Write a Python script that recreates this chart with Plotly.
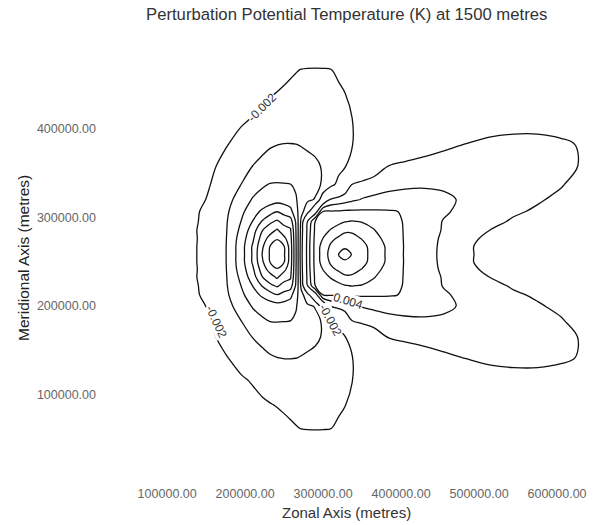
import numpy as np
import plotly.graph_objects as go

# Grid columns (zonal, km) and rows (meridional, km), bottom to top
x_km = [100, 125, 150, 175, 195, 210, 222, 232, 241, 250, 258, 265, 272, 280, 290, 300, 310,
        320, 328, 337, 350, 365, 385, 405, 430, 455, 485, 515, 545, 575, 605, 635, 660]
y_km = [41.5, 62.6, 89.0, 115.4, 141.8, 165.0, 184.0, 199.9, 212.6, 223.1, 232.6, 241.1, 249.5,
        258.0, 267.0, 276.0, 285.0, 295.1, 306.3, 319.8, 336.6, 356.9, 381.6, 409.7, 437.8, 465.8, 488.3]

# Perturbation potential temperature, in milli-kelvin (rows bottom -> top)
z_mK = [
    [-0.2, -0.3, -0.4, -0.5, -0.65, -0.75, -0.85, -0.95, -1.0, -1.1, -1.15, -1.2, -1.25, -1.3, -1.3, -1.3, -1.25, -1.2, -1.15, -1.05, -0.9, -0.7, -0.45, -0.25, -0.05, 0.1, 0.2, 0.25, 0.3, 0.3, 0.25, 0.2, 0.15],
    [-0.3, -0.45, -0.6, -0.8, -1.0, -1.2, -1.35, -1.5, -1.6, -1.75, -1.85, -1.95, -2.02, -2.05, -2.06, -2.05, -2.01, -1.9, -1.8, -1.65, -1.4, -1.1, -0.7, -0.4, -0.1, 0.15, 0.35, 0.45, 0.5, 0.5, 0.45, 0.35, 0.25],
    [-0.4, -0.6, -0.8, -1.1, -1.4, -1.6, -1.8, -1.95, -2.05, -2.15, -2.25, -2.3, -2.35, -2.4, -2.4, -2.35, -2.25, -2.1, -2.02, -1.8, -1.5, -1.15, -0.7, -0.3, 0.15, 0.5, 0.8, 0.95, 1.0, 1.0, 0.9, 0.7, 0.5],
    [-0.5, -0.8, -1.05, -1.45, -1.8, -2.1, -2.4, -2.55, -2.7, -2.8, -2.85, -2.85, -2.85, -2.8, -2.75, -2.65, -2.5, -2.35, -2.2, -2.02, -1.6, -1.2, -0.7, -0.2, 0.4, 0.9, 1.3, 1.55, 1.65, 1.65, 1.55, 1.2, 0.8],
    [-0.6, -0.95, -1.3, -1.9, -2.5, -3.0, -3.5, -3.85, -3.98, -4.05, -4.05, -4.02, -3.95, -3.85, -3.6, -3.35, -3.0, -2.6, -2.3, -2.05, -1.6, -1.1, -0.4, 0.3, 1.0, 1.6, 2.05, 2.2, 2.25, 2.25, 2.15, 1.9, 1.2],
    [-0.7, -1.1, -1.55, -2.44, -3.4, -4.05, -4.5, -4.7, -4.8, -4.8, -4.7, -4.55, -4.45, -4.35, -4.3, -3.85, -3.2, -2.6, -2.1, -1.42, -0.45, 0.7, 2.15, 2.5, 2.8, 3.0, 3.1, 3.1, 3.0, 2.8, 2.5, 1.8, 1.1],
    [-0.75, -1.25, -1.75, -2.9, -4.02, -4.98, -5.8, -6.1, -6.15, -6.1, -6.05, -5.7, -5.25, -4.75, -4.4, -3.8, -2.6, -1.4, 0.2, 2.05, 2.6, 3.0, 3.4, 3.65, 3.8, 3.75, 3.45, 3.05, 2.7, 2.4, 2.1, 1.4, 0.9],
    [-0.8, -1.3, -2.02, -3.35, -4.76, -6.2, -6.6, -7.0, -7.2, -7.1, -6.9, -6.2, -5.0, -4.3, -3.9, -0.5, 2.19, 2.7, 3.1, 3.6, 4.1, 4.4, 4.7, 4.8, 4.6, 4.3, 3.72, 3.2, 2.65, 2.15, 1.7, 1.2, 0.8],
    [-0.85, -1.35, -2.33, -3.6, -5.55, -7.2, -8.36, -9.2, -9.95, -9.3, -8.6, -6.8, -4.6, -2.8, 0.8, 6.05, 6.15, 6.2, 6.3, 6.3, 6.3, 6.25, 6.15, 5.87, 5.0, 4.2, 3.5, 2.85, 2.2, 1.8, 1.55, 1.1, 0.7],
    [-0.9, -1.4, -2.4, -3.75, -6.05, -8.1, -10.2, -11.6, -12.3, -11.3, -11.0, -7.8, -3.5, 2.0, 6.1, 6.3, 6.9, 7.5, 7.9, 8.1, 7.9, 7.5, 6.7, 5.85, 4.85, 3.9, 3.1, 2.4, 1.8, 1.55, 1.35, 0.95, 0.6],
    [-0.9, -1.45, -2.5, -3.8, -6.5, -9.1, -11.95, -13.2, -14.3, -12.85, -12.3, -8.1, -3.2, 2.6, 6.4, 7.2, 8.2, 9.0, 9.7, 9.7, 9.0, 8.1, 7.0, 5.85, 4.8, 3.85, 2.8, 1.95, 1.6, 1.4, 1.2, 0.85, 0.55],
    [-0.9, -1.4, -2.5, -3.85, -6.9, -9.7, -12.95, -14.8, -15.95, -14.45, -12.8, -8.2, -3.0, 2.8, 6.6, 8.05, 9.56, 10.3, 10.75, 10.6, 9.9, 8.7, 7.2, 5.85, 4.75, 3.7, 2.3, 1.7, 1.45, 1.25, 1.05, 0.75, 0.5],
    [-0.9, -1.4, -2.55, -3.9, -7.1, -10.3, -13.7, -16.05, -16.3, -16.05, -13.1, -8.3, -2.9, 2.9, 6.7, 8.9, 10.3, 11.2, 11.8, 11.5, 10.6, 9.2, 7.5, 5.85, 4.75, 3.6, 2.15, 1.6, 1.35, 1.15, 0.95, 0.65, 0.45],
    [-0.9, -1.4, -2.55, -3.9, -7.1, -10.3, -14.1, -16.2, -16.8, -16.2, -13.2, -8.3, -2.8, 2.9, 6.7, 9.0, 10.7, 12.1, 12.5, 11.95, 10.7, 9.25, 7.5, 5.83, 4.72, 3.58, 2.16, 1.6, 1.3, 1.1, 0.9, 0.6, 0.4],
    [-0.9, -1.4, -2.55, -3.9, -7.1, -10.3, -13.7, -16.05, -16.3, -16.05, -13.1, -8.3, -2.9, 2.9, 6.7, 8.9, 10.3, 11.2, 11.8, 11.5, 10.6, 9.2, 7.5, 5.85, 4.75, 3.6, 2.15, 1.6, 1.35, 1.15, 0.95, 0.65, 0.45],
    [-0.9, -1.4, -2.5, -3.85, -6.9, -9.7, -12.95, -14.8, -15.95, -14.45, -12.8, -8.2, -3.0, 2.8, 6.6, 8.05, 9.56, 10.3, 10.75, 10.6, 9.9, 8.7, 7.2, 5.85, 4.75, 3.7, 2.3, 1.7, 1.45, 1.25, 1.05, 0.75, 0.5],
    [-0.9, -1.45, -2.5, -3.8, -6.5, -9.1, -11.95, -13.2, -14.3, -12.85, -12.3, -8.1, -3.2, 2.6, 6.4, 7.2, 8.2, 9.0, 9.7, 9.7, 9.0, 8.1, 7.0, 5.85, 4.8, 3.85, 2.8, 1.95, 1.6, 1.4, 1.2, 0.85, 0.55],
    [-0.9, -1.4, -2.4, -3.75, -6.05, -8.1, -10.2, -11.6, -12.3, -11.3, -11.0, -7.8, -3.5, 2.0, 6.1, 6.3, 6.9, 7.5, 7.9, 8.1, 7.9, 7.5, 6.7, 5.85, 4.85, 3.9, 3.1, 2.4, 1.8, 1.55, 1.35, 0.95, 0.6],
    [-0.85, -1.35, -2.33, -3.6, -5.55, -7.2, -8.36, -9.2, -9.95, -9.3, -8.6, -6.8, -4.6, -2.8, 0.8, 6.05, 6.15, 6.2, 6.3, 6.3, 6.3, 6.25, 6.15, 5.87, 5.0, 4.2, 3.5, 2.85, 2.2, 1.8, 1.55, 1.1, 0.7],
    [-0.8, -1.3, -2.02, -3.35, -4.76, -6.2, -6.6, -7.0, -7.2, -7.1, -6.9, -6.2, -5.0, -4.3, -3.9, -0.5, 2.19, 2.7, 3.1, 3.6, 4.1, 4.4, 4.7, 4.8, 4.6, 4.3, 3.72, 3.2, 2.65, 2.15, 1.7, 1.2, 0.8],
    [-0.75, -1.25, -1.75, -2.9, -4.02, -4.98, -5.8, -6.1, -6.15, -6.1, -6.05, -5.7, -5.25, -4.75, -4.4, -3.8, -2.6, -1.4, 0.2, 2.05, 2.6, 3.0, 3.4, 3.65, 3.8, 3.75, 3.45, 3.05, 2.7, 2.4, 2.1, 1.4, 0.9],
    [-0.7, -1.1, -1.55, -2.44, -3.4, -4.05, -4.5, -4.7, -4.8, -4.8, -4.7, -4.55, -4.45, -4.35, -4.3, -3.85, -3.2, -2.6, -2.1, -1.42, -0.45, 0.7, 2.15, 2.5, 2.8, 3.0, 3.1, 3.1, 3.0, 2.8, 2.5, 1.8, 1.1],
    [-0.6, -0.95, -1.3, -1.9, -2.5, -3.0, -3.5, -3.85, -3.98, -4.05, -4.05, -4.02, -3.95, -3.85, -3.6, -3.35, -3.0, -2.6, -2.3, -2.05, -1.6, -1.1, -0.4, 0.3, 1.0, 1.6, 2.05, 2.2, 2.25, 2.25, 2.15, 1.9, 1.2],
    [-0.5, -0.8, -1.05, -1.45, -1.8, -2.1, -2.4, -2.55, -2.7, -2.8, -2.85, -2.85, -2.85, -2.8, -2.75, -2.65, -2.5, -2.35, -2.2, -2.02, -1.6, -1.2, -0.7, -0.2, 0.4, 0.9, 1.3, 1.55, 1.65, 1.65, 1.55, 1.2, 0.8],
    [-0.4, -0.6, -0.8, -1.1, -1.4, -1.6, -1.8, -1.95, -2.05, -2.15, -2.25, -2.3, -2.35, -2.4, -2.4, -2.35, -2.25, -2.1, -2.02, -1.8, -1.5, -1.15, -0.7, -0.3, 0.15, 0.5, 0.8, 0.95, 1.0, 1.0, 0.9, 0.7, 0.5],
    [-0.3, -0.45, -0.6, -0.8, -1.0, -1.2, -1.35, -1.5, -1.6, -1.75, -1.85, -1.95, -2.02, -2.05, -2.06, -2.05, -2.01, -1.9, -1.8, -1.65, -1.4, -1.1, -0.7, -0.4, -0.1, 0.15, 0.35, 0.45, 0.5, 0.5, 0.45, 0.35, 0.25],
    [-0.2, -0.3, -0.4, -0.5, -0.65, -0.75, -0.85, -0.95, -1.0, -1.1, -1.15, -1.2, -1.25, -1.3, -1.3, -1.3, -1.25, -1.2, -1.15, -1.05, -0.9, -0.7, -0.45, -0.25, -0.05, 0.1, 0.2, 0.25, 0.3, 0.3, 0.25, 0.2, 0.15],
]

x_ticks = [100000, 200000, 300000, 400000, 500000, 600000]
y_ticks = [100000, 200000, 300000, 400000]

# Contour labels as they appear on the picture: text, x (m), y (m), angle (deg)
label_text = ["-0.002", "-0.002", "-0.002", "0.004"]
label_x = [221000, 163000, 309000, 332000]
label_y = [423000, 182000, 184000, 206000]
label_angle = [-45, 65, 62, 17]

title_text = "Perturbation Potential Temperature (K) at 1500 metres"
x_title = "Zonal Axis (metres)"
y_title = "Meridional Axis (metres)"

x = np.array(x_km) * 1000.0
y = np.array(y_km) * 1000.0
z = np.array(z_mK) / 1000.0

FONT = "Liberation Sans, Arial, sans-serif"


def contour(start, end):
    return go.Contour(
        x=x, y=y, z=z, autocontour=False, showscale=False, hoverinfo="skip",
        contours=dict(start=start, end=end, size=0.002, coloring="none", showlabels=False),
        line=dict(color="#111", width=1.3, smoothing=1),
    )


fig = go.Figure([
    contour(-0.016, -0.002),
    contour(0.002, 0.012),
])

axis_common = dict(showgrid=False, zeroline=False, showline=False, ticks="",
                   tickformat=".2f", tickfont=dict(family=FONT, size=12.5, color="#666"))

annotations = [
    dict(text=t, x=lx, y=ly, xref="x", yref="y", textangle=a, showarrow=False,
         xanchor="center", yanchor="middle", bgcolor="white", borderpad=0,
         font=dict(family=FONT, size=12, color="#333"))
    for t, lx, ly, a in zip(label_text, label_x, label_y, label_angle)
]
annotations += [
    dict(text=title_text, xref="paper", yref="paper", x=0.5, y=1 + 42 / 427,
         showarrow=False, xanchor="center", yanchor="middle",
         font=dict(family=FONT, size=16.7, color="#333")),
    dict(text=x_title, xref="paper", yref="paper", x=0.5, y=-28 / 427,
         showarrow=False, xanchor="center", yanchor="middle",
         font=dict(family=FONT, size=15, color="#333")),
    dict(text=y_title, xref="paper", yref="paper", x=-74 / 499, y=226 / 427,
         showarrow=False, xanchor="center", yanchor="middle", textangle=-90,
         font=dict(family=FONT, size=15.5, color="#222")),
]

fig.update_layout(
    width=603, height=525,
    margin=dict(l=97, r=7, t=57, b=41),
    paper_bgcolor="white", plot_bgcolor="white",
    showlegend=False,
    xaxis=dict(range=[10000, 650000], tickvals=x_ticks, **axis_common),
    yaxis=dict(range=[0, 480000], tickvals=y_ticks, **axis_common),
    annotations=annotations,
)

fig.write_html("out.html")
